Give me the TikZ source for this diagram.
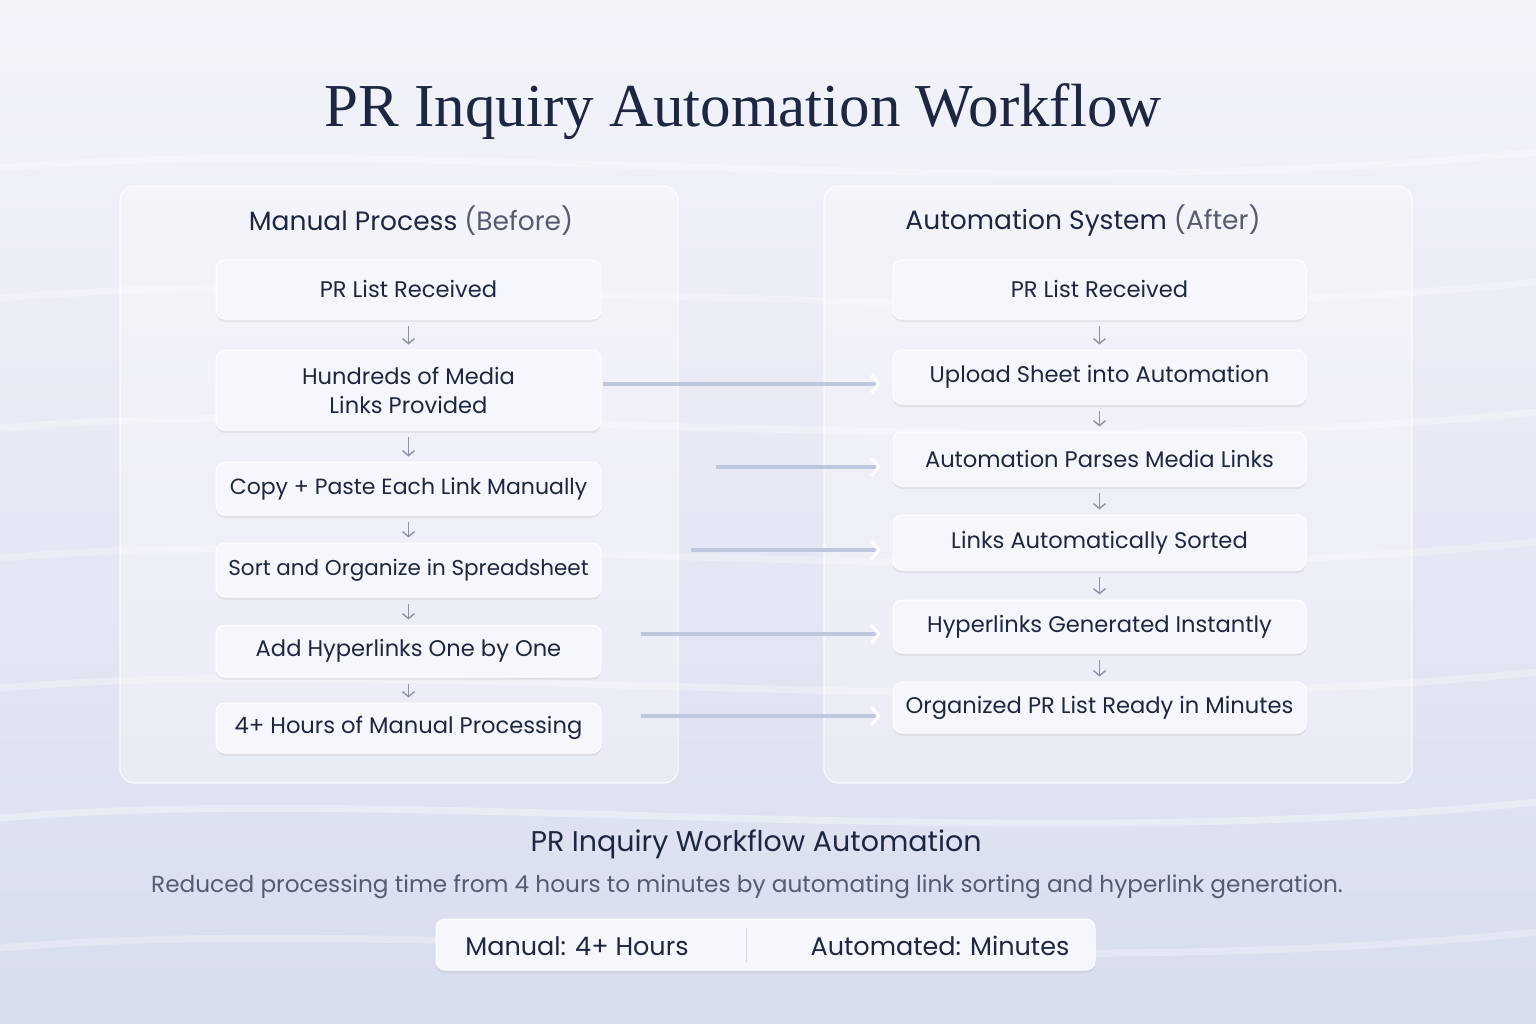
\documentclass[tikz,border=0pt]{standalone}
\usepackage{fontspec}
\setmainfont{Poppins}
\newfontfamily\titlefont{Liberation Serif}
\usetikzlibrary{positioning,arrows.meta,shadows}
\definecolor{inkblue}{HTML}{1E2742}
\definecolor{softgray}{HTML}{555B70}
\definecolor{bgtop}{HTML}{F3F4FA}
\definecolor{bgbot}{HTML}{D8DDEE}
\definecolor{linkline}{HTML}{BEC7DD}
\definecolor{downgray}{HTML}{8C92A8}
\definecolor{boxfill}{HTML}{F6F7FC}
\begin{document}
\begin{tikzpicture}[x=1pt,y=-1pt,
  panel/.style={draw=white, line width=1.2pt, fill=white, fill opacity=0.35,
    draw opacity=0.8, rounded corners=14pt, text opacity=1},
  stepbox/.style={draw=white, line width=1pt, fill=boxfill, rounded corners=9pt,
    text=inkblue, align=center, inner sep=0pt,
    font=\fontsize{22.6}{29}\selectfont,
    drop shadow={opacity=0.12, shadow xshift=0pt, shadow yshift=-3pt}},
  headtext/.style={text=inkblue, font=\fontsize{26.5}{31}\selectfont},
  down/.style={draw=downgray, line width=1.4pt, shorten <=6pt, shorten >=5pt,
    -{Straight Barb[length=5pt, width=12pt, line width=1.4pt]}},
  flow/.style={draw=linkline, line width=3.2pt, shorten >=12pt,
    -{Straight Barb[color=white, length=7pt, width=18pt, line width=3pt]}}
]
  \useasboundingbox (0,0) rectangle (1536,1024);
  % background
  \begin{scope}
    \clip (0,0) rectangle (1536,1024);
    \shade[top color=bgtop, bottom color=bgbot] (0,0) rectangle (1536,1024);
    \foreach \yy/\op in {170/0.35, 300/0.25, 430/0.3, 560/0.25, 690/0.3, 820/0.35, 950/0.3}
      \draw[white, line width=7pt, opacity=\op, line cap=round]
        (-20,\yy) .. controls (380,\yy-40) and (1000,\yy+40) .. (1556,\yy-20);
  \end{scope}

  % title
  \node[text=inkblue, font=\titlefont\fontsize{61}{67}\selectfont] (title) at (743,112)
    {PR Inquiry Automation Workflow};

  % panels
  \node[panel, minimum width=558pt, minimum height=597pt] (lpanel) at (399,484.5) {};
  \node[panel, minimum width=588pt, minimum height=597pt] (rpanel) at (1118,484.5) {};
  \node[headtext] (lhead) at (411,221) {Manual Process \textcolor{softgray}{(Before)}};
  \node[headtext] (rhead) at (1083,221) {Automation System \textcolor{softgray}{(After)}};

  % manual steps
  \node[stepbox, minimum width=385pt, minimum height=59pt] (l1) at (408.5,289.5) {PR List Received};
  \node[stepbox, minimum width=385pt, minimum height=80pt] (l2) at (408.5,390) {Hundreds of Media\\Links Provided};
  \node[stepbox, minimum width=385pt, minimum height=53pt, font=\fontsize{22}{29}\selectfont] (l3) at (408.5,488.5) {Copy + Paste Each Link Manually};
  \node[stepbox, minimum width=385pt, minimum height=54pt, font=\fontsize{21.5}{29}\selectfont] (l4) at (408.5,570) {Sort and Organize in Spreadsheet};
  \node[stepbox, minimum width=385pt, minimum height=52pt] (l5) at (408.5,651) {Add Hyperlinks One by One};
  \node[stepbox, minimum width=385pt, minimum height=50pt] (l6) at (408.5,728) {4+ Hours of Manual Processing};

  % automated steps
  \node[stepbox, minimum width=413pt, minimum height=59pt] (r1) at (1099.5,289.5) {PR List Received};
  \node[stepbox, minimum width=413pt, minimum height=54pt] (r2) at (1099.5,377) {Upload Sheet into Automation};
  \node[stepbox, minimum width=413pt, minimum height=54pt] (r3) at (1099.5,459) {Automation Parses Media Links};
  \node[stepbox, minimum width=413pt, minimum height=55pt] (r4) at (1099.5,542.5) {Links Automatically Sorted};
  \node[stepbox, minimum width=413pt, minimum height=53pt] (r5) at (1099.5,626.5) {Hyperlinks Generated Instantly};
  \node[stepbox, minimum width=413pt, minimum height=51pt] (r6) at (1099.5,707.5) {Organized PR List Ready in Minutes};

  % step arrows
  \foreach \a/\b in {1/2, 2/3, 3/4, 4/5, 5/6} {
    \draw[down] (l\a.south) -- (l\b.north);
    \draw[down] (r\a.south) -- (r\b.north);
  }

  % before -> after links
  \foreach \i/\yy/\s in {2/384/1, 3/467/114, 4/550/89, 5/634/39, 6/716/39}
    \draw[flow, shorten <=\s pt] (l\i.east |- 0,\yy) -- (r\i.west |- 0,\yy);

  % summary
  \node[text=inkblue, font=\fontsize{28.5}{33}\selectfont] (sumtitle) at (756,844)
    {PR Inquiry Workflow Automation};
  \node[text=softgray, font=\fontsize{23.2}{28}\selectfont] (sumtext) at (747,887)
    {Reduced processing time from 4 hours to minutes by automating link sorting and hyperlink generation.};
  \node[stepbox, minimum width=659pt, minimum height=51pt] (bar) at (765.5,944.5) {};
  \node[text=inkblue, font=\fontsize{25.5}{30}\selectfont] (manual) at (577,946) {Manual: 4+ Hours};
  \node[text=inkblue, font=\fontsize{25.5}{30}\selectfont] (auto) at (940,946) {Automated: Minutes};
  \path (bar.north -| 746,0) ++(0,9) coordinate (d1)
    (bar.south -| 746,0) ++(0,-9) coordinate (d2);
  \draw[downgray!35, line width=1pt] (d1) -- (d2);
\end{tikzpicture}
\end{document}
